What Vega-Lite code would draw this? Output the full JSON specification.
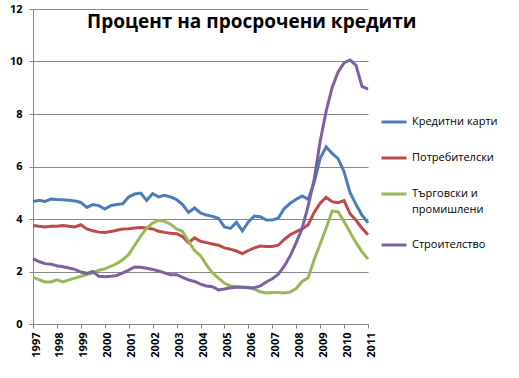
{
  "$schema": "https://vega.github.io/schema/vega-lite/v6.json",
  "width": 335,
  "height": 315,
  "autosize": "none",
  "padding": {"left": 33, "top": 9, "right": 151, "bottom": 54},
  "background": "white",
  "title": {
    "text": "Процент на просрочени кредити",
    "anchor": "start",
    "frame": "group",
    "dx": 54,
    "offset": -29,
    "fontSize": 19,
    "font": "Open Sans",
    "fontWeight": "bold",
    "color": "black"
  },
  "config": {
    "view": {"stroke": null},
    "style": {"guide-label": {"lineHeight": 16}},
    "axis": {
      "labelFont": "Open Sans",
      "labelFontSize": 11,
      "labelFontWeight": "bold",
      "labelColor": "black",
      "domainColor": "#868686",
      "tickColor": "#868686",
      "gridColor": "#868686",
      "gridOpacity": 1,
      "tickSize": 4,
      "title": null
    }
  },
  "data": {
    "values": [
      {"t": 1997.00, "Кредитни карти": 4.67, "Потребителски": 3.75, "Търговски и промишлени": 1.78, "Строителство": 2.49},
      {"t": 1997.25, "Кредитни карти": 4.71, "Потребителски": 3.72, "Търговски и промишлени": 1.69, "Строителство": 2.38},
      {"t": 1997.50, "Кредитни карти": 4.67, "Потребителски": 3.70, "Търговски и промишлени": 1.60, "Строителство": 2.30},
      {"t": 1997.75, "Кредитни карти": 4.76, "Потребителски": 3.72, "Търговски и промишлени": 1.60, "Строителство": 2.28},
      {"t": 1998.00, "Кредитни карти": 4.74, "Потребителски": 3.72, "Търговски и промишлени": 1.68, "Строителство": 2.22},
      {"t": 1998.25, "Кредитни карти": 4.73, "Потребителски": 3.75, "Търговски и промишлени": 1.60, "Строителство": 2.18},
      {"t": 1998.50, "Кредитни карти": 4.71, "Потребителски": 3.72, "Търговски и промишлени": 1.68, "Строителство": 2.13},
      {"t": 1998.75, "Кредитни карти": 4.69, "Потребителски": 3.70, "Търговски и промишлени": 1.75, "Строителство": 2.08},
      {"t": 1999.00, "Кредитни карти": 4.63, "Потребителски": 3.78, "Търговски и промишлени": 1.82, "Строителство": 1.98},
      {"t": 1999.25, "Кредитни карти": 4.44, "Потребителски": 3.62, "Търговски и промишлени": 1.88, "Строителство": 1.93},
      {"t": 1999.50, "Кредитни карти": 4.55, "Потребителски": 3.55, "Търговски и промишлени": 1.95, "Строителство": 2.00},
      {"t": 1999.75, "Кредитни карти": 4.51, "Потребителски": 3.50, "Търговски и промишлени": 2.05, "Строителство": 1.82},
      {"t": 2000.00, "Кредитни карти": 4.38, "Потребителски": 3.49, "Търговски и промишлени": 2.10, "Строителство": 1.80},
      {"t": 2000.25, "Кредитни карти": 4.51, "Потребителски": 3.52, "Търговски и промишлени": 2.20, "Строителство": 1.82},
      {"t": 2000.50, "Кредитни карти": 4.55, "Потребителски": 3.57, "Търговски и промишлени": 2.30, "Строителство": 1.85},
      {"t": 2000.75, "Кредитни карти": 4.58, "Потребителски": 3.62, "Търговски и промишлени": 2.45, "Строителство": 1.95},
      {"t": 2001.00, "Кредитни карти": 4.84, "Потребителски": 3.63, "Търговски и промишлени": 2.65, "Строителство": 2.05},
      {"t": 2001.25, "Кредитни карти": 4.95, "Потребителски": 3.66, "Търговски и промишлени": 3.00, "Строителство": 2.17},
      {"t": 2001.50, "Кредитни карти": 4.99, "Потребителски": 3.68, "Търговски и промишлени": 3.35, "Строителство": 2.16},
      {"t": 2001.75, "Кредитни карти": 4.71, "Потребителски": 3.66, "Търговски и промишлени": 3.65, "Строителство": 2.12},
      {"t": 2002.00, "Кредитни карти": 4.97, "Потребителски": 3.62, "Търговски и промишлени": 3.85, "Строителство": 2.08},
      {"t": 2002.25, "Кредитни карти": 4.84, "Потребителски": 3.53, "Търговски и промишлени": 3.95, "Строителство": 2.02},
      {"t": 2002.50, "Кредитни карти": 4.90, "Потребителски": 3.49, "Търговски и промишлени": 3.91, "Строителство": 1.95},
      {"t": 2002.75, "Кредитни карти": 4.84, "Потребителски": 3.46, "Търговски и промишлени": 3.80, "Строителство": 1.88},
      {"t": 2003.00, "Кредитни карти": 4.74, "Потребителски": 3.44, "Търговски и промишлени": 3.62, "Строителство": 1.88},
      {"t": 2003.25, "Кредитни карти": 4.55, "Потребителски": 3.33, "Търговски и промишлени": 3.53, "Строителство": 1.78},
      {"t": 2003.50, "Кредитни карти": 4.25, "Потребителски": 3.10, "Търговски и промишлени": 3.15, "Строителство": 1.68},
      {"t": 2003.75, "Кредитни карти": 4.42, "Потребителски": 3.28, "Търговски и промишлени": 2.80, "Строителство": 1.62},
      {"t": 2004.00, "Кредитни карти": 4.23, "Потребителски": 3.15, "Търговски и промишлени": 2.60, "Строителство": 1.52},
      {"t": 2004.25, "Кредитни карти": 4.15, "Потребителски": 3.10, "Търговски и промишлени": 2.25, "Строителство": 1.45},
      {"t": 2004.50, "Кредитни карти": 4.10, "Потребителски": 3.05, "Търговски и промишлени": 1.95, "Строителство": 1.42},
      {"t": 2004.75, "Кредитни карти": 4.03, "Потребителски": 3.00, "Търговски и промишлени": 1.75, "Строителство": 1.30},
      {"t": 2005.00, "Кредитни карти": 3.70, "Потребителски": 2.90, "Търговски и промишлени": 1.55, "Строителство": 1.33},
      {"t": 2005.25, "Кредитни карти": 3.64, "Потребителски": 2.85, "Търговски и промишлени": 1.45, "Строителство": 1.38},
      {"t": 2005.50, "Кредитни карти": 3.87, "Потребителски": 2.78, "Търговски и промишлени": 1.43, "Строителство": 1.40},
      {"t": 2005.75, "Кредитни карти": 3.55, "Потребителски": 2.68, "Търговски и промишлени": 1.40, "Строителство": 1.40},
      {"t": 2006.00, "Кредитни карти": 3.89, "Потребителски": 2.80, "Търговски и промишлени": 1.40, "Строителство": 1.38},
      {"t": 2006.25, "Кредитни карти": 4.11, "Потребителски": 2.90, "Търговски и промишлени": 1.32, "Строителство": 1.38},
      {"t": 2006.50, "Кредитни карти": 4.09, "Потребителски": 2.97, "Търговски и промишлени": 1.23, "Строителство": 1.45},
      {"t": 2006.75, "Кредитни карти": 3.96, "Потребителски": 2.95, "Търговски и промишлени": 1.18, "Строителство": 1.60},
      {"t": 2007.00, "Кредитни карти": 3.96, "Потребителски": 2.95, "Търговски и промишлени": 1.20, "Строителство": 1.72},
      {"t": 2007.25, "Кредитни карти": 4.03, "Потребителски": 3.00, "Търговски и промишлени": 1.20, "Строителство": 1.90},
      {"t": 2007.50, "Кредитни карти": 4.40, "Потребителски": 3.22, "Търговски и промишлени": 1.18, "Строителство": 2.20},
      {"t": 2007.75, "Кредитни карти": 4.60, "Потребителски": 3.40, "Търговски и промишлени": 1.22, "Строителство": 2.60},
      {"t": 2008.00, "Кредитни карти": 4.75, "Потребителски": 3.52, "Търговски и промишлени": 1.35, "Строителство": 3.10},
      {"t": 2008.25, "Кредитни карти": 4.88, "Потребителски": 3.62, "Търговски и промишлени": 1.62, "Строителство": 3.65},
      {"t": 2008.50, "Кредитни карти": 4.75, "Потребителски": 3.78, "Търговски и промишлени": 1.76, "Строителство": 4.50},
      {"t": 2008.75, "Кредитни карти": 5.40, "Потребителски": 4.25, "Търговски и промишлени": 2.45, "Строителство": 5.50},
      {"t": 2009.00, "Кредитни карти": 6.30, "Потребителски": 4.60, "Търговски и промишлени": 3.05, "Строителство": 6.95},
      {"t": 2009.25, "Кредитни карти": 6.75, "Потребителски": 4.83, "Търговски и промишлени": 3.65, "Строителство": 8.10},
      {"t": 2009.50, "Кредитни карти": 6.50, "Потребителски": 4.66, "Търговски и промишлени": 4.30, "Строителство": 9.00},
      {"t": 2009.75, "Кредитни карти": 6.30, "Потребителски": 4.62, "Търговски и промишлени": 4.28, "Строителство": 9.60},
      {"t": 2010.00, "Кредитни карти": 5.80, "Потребителски": 4.70, "Търговски и промишлени": 3.90, "Строителство": 9.95},
      {"t": 2010.25, "Кредитни карти": 5.00, "Потребителски": 4.20, "Търговски и промишлени": 3.50, "Строителство": 10.06},
      {"t": 2010.50, "Кредитни карти": 4.55, "Потребителски": 3.95, "Търговски и промишлени": 3.10, "Строителство": 9.85},
      {"t": 2010.75, "Кредитни карти": 4.15, "Потребителски": 3.65, "Търговски и промишлени": 2.75, "Строителство": 9.05},
      {"t": 2011.00, "Кредитни карти": 3.85, "Потребителски": 3.40, "Търговски и промишлени": 2.47, "Строителство": 8.95}
    ]
  },
  "transform": [
    {"fold": ["Кредитни карти", "Потребителски", "Търговски и промишлени", "Строителство"], "as": ["k", "v"]}
  ],
  "mark": {"type": "line", "strokeWidth": 3, "interpolate": "linear"},
  "encoding": {
    "x": {
      "field": "t",
      "type": "quantitative",
      "scale": {"domain": [1997, 2011], "nice": false, "zero": false},
      "axis": {
        "values": [1997, 1998, 1999, 2000, 2001, 2002, 2003, 2004, 2005, 2006, 2007, 2008, 2009, 2010, 2011],
        "format": "d",
        "labelAngle": -90,
        "grid": false,
        "labelPadding": 4,
        "labelOffset": 3
      }
    },
    "y": {
      "field": "v",
      "type": "quantitative",
      "scale": {"domain": [0, 12], "nice": false},
      "axis": {
        "values": [0, 2, 4, 6, 8, 10, 12],
        "grid": true,
        "labelPadding": 7
      }
    },
    "color": {
      "field": "k",
      "type": "nominal",
      "sort": ["Кредитни карти", "Потребителски", "Търговски и промишлени", "Строителство"],
      "scale": {
        "domain": ["Кредитни карти", "Потребителски", "Търговски и промишлени", "Строителство"],
        "range": ["#4A7EBB", "#BE4B48", "#98B954", "#7D60A0"]
      },
      "legend": {
        "title": null,
        "orient": "none",
        "legendX": 347,
        "legendY": 99,
        "symbolType": "stroke",
        "symbolStrokeWidth": 3,
        "symbolSize": 625,
        "labelFont": "Open Sans",
        "labelFontSize": 11,
        "labelColor": "black",
        "labelOffset": 4,
        "rowPadding": 16,
        "labelLimit": 200,
        "labelExpr": "datum.label == 'Търговски и промишлени' ? ['Търговски  и', 'промишлени'] : datum.label"
      }
    }
  }
}
